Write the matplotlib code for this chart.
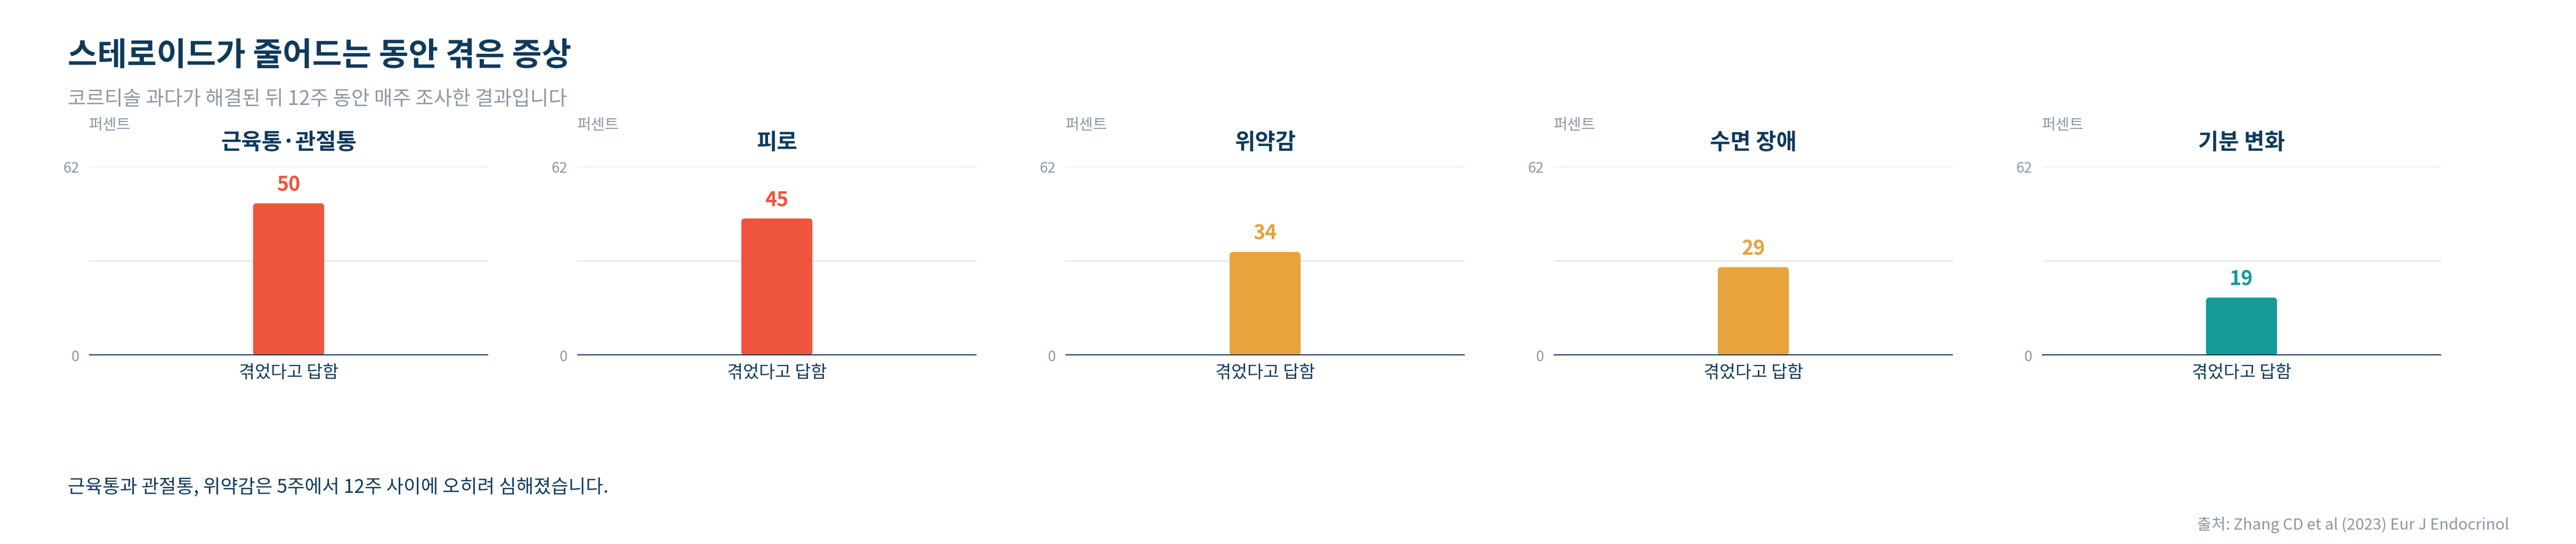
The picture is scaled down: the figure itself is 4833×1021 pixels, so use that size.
import matplotlib
matplotlib.use("Agg")
import matplotlib.pyplot as plt
from matplotlib.patches import FancyBboxPatch

plt.rcParams['font.family'] = ['Noto Sans CJK KR', 'DejaVu Sans']

# ---- data ----
symptoms = ["근육통·관절통", "피로", "위약감", "수면 장애", "기분 변화"]
values = [50, 45, 34, 29, 19]
bar_colors = ["#ef553c", "#ef553c", "#e8a33d", "#e8a33d", "#169a9a"]
category = ["겪었다고 답함"]
y_max = 62
y_ticks = [0, 62]
grid_vals = [31, 62]

title = "스테로이드가 줄어드는 동안 겪은 증상"
subtitle = "코르티솔 과다가 해결된 뒤 12주 동안 매주 조사한 결과입니다"
note = "근육통과 관절통, 위약감은 5주에서 12주 사이에 오히려 심해졌습니다."
source = "출처: Zhang CD et al (2023) Eur J Endocrinol"
unit_label = "퍼센트"

NAVY = "#0f3a5b"
GRAY = "#8c98a4"
GRID = "#e3e6ea"

W, H = 4833, 1021
fig = plt.figure(figsize=(W / 100, H / 100), dpi=100)
fig.patch.set_facecolor("white")

ax_left0 = 167
ax_w = 749
ax_step = 916
ax_top = 313
ax_bot = 667

for i, (name, val, col) in enumerate(zip(symptoms, values, bar_colors)):
    left = ax_left0 + i * ax_step
    ax = fig.add_axes([left / W, 1 - ax_bot / H, ax_w / W, (ax_bot - ax_top) / H])
    ax.set_xlim(-0.5, 0.5)
    ax.set_ylim(0, y_max)
    for g in grid_vals:
        ax.axhline(g, color=GRID, lw=1.6, zorder=0)
    bars = ax.bar(category, [val], width=0.178, color=col, zorder=2)
    for b in bars:
        x0, y0, bw, bh = b.get_x(), b.get_y(), b.get_width(), b.get_height()
        b.set_visible(False)
        ypx_per_unit = (ax_bot - ax_top) / y_max
        xpx_per_unit = ax_w / 1.0
        fb = FancyBboxPatch((x0, y0), bw, bh,
                            boxstyle="round,pad=0,rounding_size=0.009",
                            mutation_aspect=xpx_per_unit / ypx_per_unit,
                            facecolor=col, edgecolor="none", zorder=2)
        ax.add_patch(fb)
        ax.annotate(f"{val}", (x0 + bw / 2, y0 + bh), xytext=(0, 11),
                    textcoords="offset points", ha="center", va="bottom",
                    fontsize=27, fontweight="bold", color=col)
    ax.axhline(0, color="#0d3757", lw=3.6, zorder=3)
    ax.set_yticks(y_ticks)
    ax.set_yticklabels([str(t) for t in y_ticks])
    ax.tick_params(axis="y", length=0, pad=13, labelsize=19.5, labelcolor=GRAY)
    ax.tick_params(axis="x", length=0, pad=12, labelsize=23.5, labelcolor=NAVY)
    for s in ax.spines.values():
        s.set_visible(False)
    ax.set_facecolor("none")
    ax.text(0.5, 1 + (ax_top - 268) / (ax_bot - ax_top), name, transform=ax.transAxes,
            ha="center", va="center", fontsize=30, fontweight="bold", color=NAVY)
    ax.text(0, 1 + (ax_top - 235) / (ax_bot - ax_top), unit_label, transform=ax.transAxes,
            ha="left", va="center", fontsize=20.5, color=GRAY)

fig.text(127 / W, 1 - 105 / H, title, ha="left", va="center",
         fontsize=43.5, fontweight="bold", color=NAVY)
fig.text(127 / W, 1 - 186 / H, subtitle, ha="left", va="center",
         fontsize=27, color=GRAY)
fig.text(127 / W, 1 - 915 / H, note, ha="left", va="center",
         fontsize=25.5, color=NAVY)
fig.text(4707 / W, 1 - 985 / H, source, ha="right", va="center",
         fontsize=21, color=GRAY)

fig.savefig("out.png", dpi=100, facecolor="white")
